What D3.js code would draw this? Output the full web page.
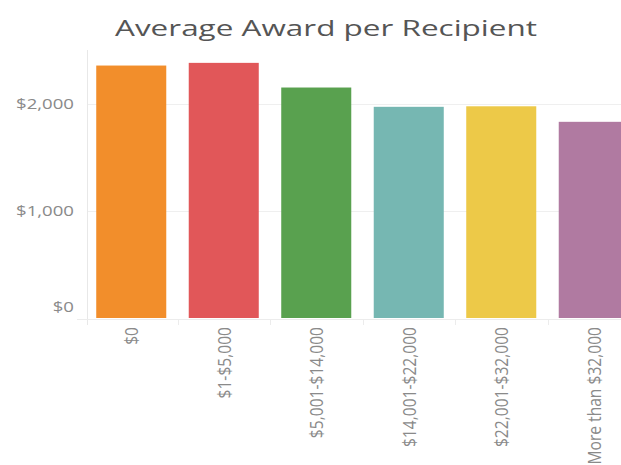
<!DOCTYPE html>
<html>
<head>
<meta charset="utf-8">
<script src="https://cdn.jsdelivr.net/npm/d3@7"></script>
<style>
  body { margin: 0; background: #fff; }
  svg { display: block; font-family: "Open Sans", sans-serif; }
</style>
</head>
<body>
<div id="chart"></div>
<script>
// data
var categories = ["$0", "$1-$5,000", "$5,001-$14,000", "$14,001-$22,000", "$22,001-$32,000", "More than $32,000"];
var awards = [2355, 2380, 2150, 1970, 1975, 1830];
var barColors = ["#f28e2b", "#e15759", "#59a14f", "#76b7b2", "#edc948", "#b07aa1"];
var yTicks = [0, 1000, 2000];

var width = 621, height = 465;
var plotTop = 50, plotBottom = 318, plotLeft = 87;

var svg = d3.select("#chart").append("svg")
  .attr("width", width)
  .attr("height", height);

var x = d3.scaleBand()
  .domain(categories)
  .range([85, 640])
  .paddingInner(0.243)
  .paddingOuter(0.1215);

var y = d3.scaleLinear()
  .domain([0, 2500])
  .range([plotBottom, plotTop]);

var fmt = function (v) { return "$" + d3.format(",")(v); };

// gridlines
svg.append("g").selectAll("line")
  .data(yTicks.filter(function (t) { return t > 0; }))
  .enter().append("line")
  .attr("x1", plotLeft).attr("x2", width)
  .attr("y1", function (d) { return Math.round(y(d)) + 0.5; })
  .attr("y2", function (d) { return Math.round(y(d)) + 0.5; })
  .attr("stroke", "#efefef");

// left axis line
svg.append("line")
  .attr("x1", plotLeft + 0.5).attr("x2", plotLeft + 0.5)
  .attr("y1", plotTop).attr("y2", plotBottom + 7)
  .attr("stroke", "#e8e8e8");

// baseline
svg.append("line")
  .attr("x1", 77).attr("x2", width)
  .attr("y1", plotBottom + 1.5).attr("y2", plotBottom + 1.5)
  .attr("stroke", "#ececec");

// column dividers under the axis
svg.append("g").selectAll("line")
  .data(categories.slice(1))
  .enter().append("line")
  .attr("x1", function (d) { return Math.round(x(d) - (x.step() - x.bandwidth()) / 2) + 0.5; })
  .attr("x2", function (d) { return Math.round(x(d) - (x.step() - x.bandwidth()) / 2) + 0.5; })
  .attr("y1", plotBottom + 1).attr("y2", plotBottom + 7)
  .attr("stroke", "#ececec");

// bars
svg.append("g").selectAll("rect")
  .data(awards)
  .enter().append("rect")
  .attr("x", function (d, i) { return x(categories[i]); })
  .attr("width", x.bandwidth())
  .attr("y", function (d) { return y(d); })
  .attr("height", function (d) { return y(0) - y(d); })
  .attr("fill", function (d, i) { return barColors[i]; });

// y labels (stretched a bit, like the original font)
svg.append("g").selectAll("text")
  .data(yTicks)
  .enter().append("text")
  .attr("transform", function (d) {
    var ty = d === 0 ? y(d) - 11 : y(d); // zero label sits above the baseline
    return "translate(74," + ty + ") scale(1.24,1)";
  })
  .attr("dy", "0.36em")
  .attr("text-anchor", "end")
  .attr("font-size", 15)
  .attr("fill", "#8a8a8a")
  .text(fmt);

// x labels, rotated
svg.append("g").selectAll("text")
  .data(categories)
  .enter().append("text")
  .attr("transform", function (d) {
    return "translate(" + (x(d) + x.bandwidth() / 2) + ",327) rotate(-90) scale(1.04,1.25)";
  })
  .attr("dy", "0.36em")
  .attr("text-anchor", "end")
  .attr("font-size", 15)
  .attr("fill", "#8a8a8a")
  .text(function (d) { return d; });

// title
svg.append("text")
  .attr("x", 326)
  .attr("y", 36)
  .attr("text-anchor", "middle")
  .attr("font-size", 22.5)
  .attr("textLength", 422)
  .attr("lengthAdjust", "spacingAndGlyphs")
  .attr("fill", "#555")
  .text("Average Award per Recipient");
</script>
</body>
</html>
